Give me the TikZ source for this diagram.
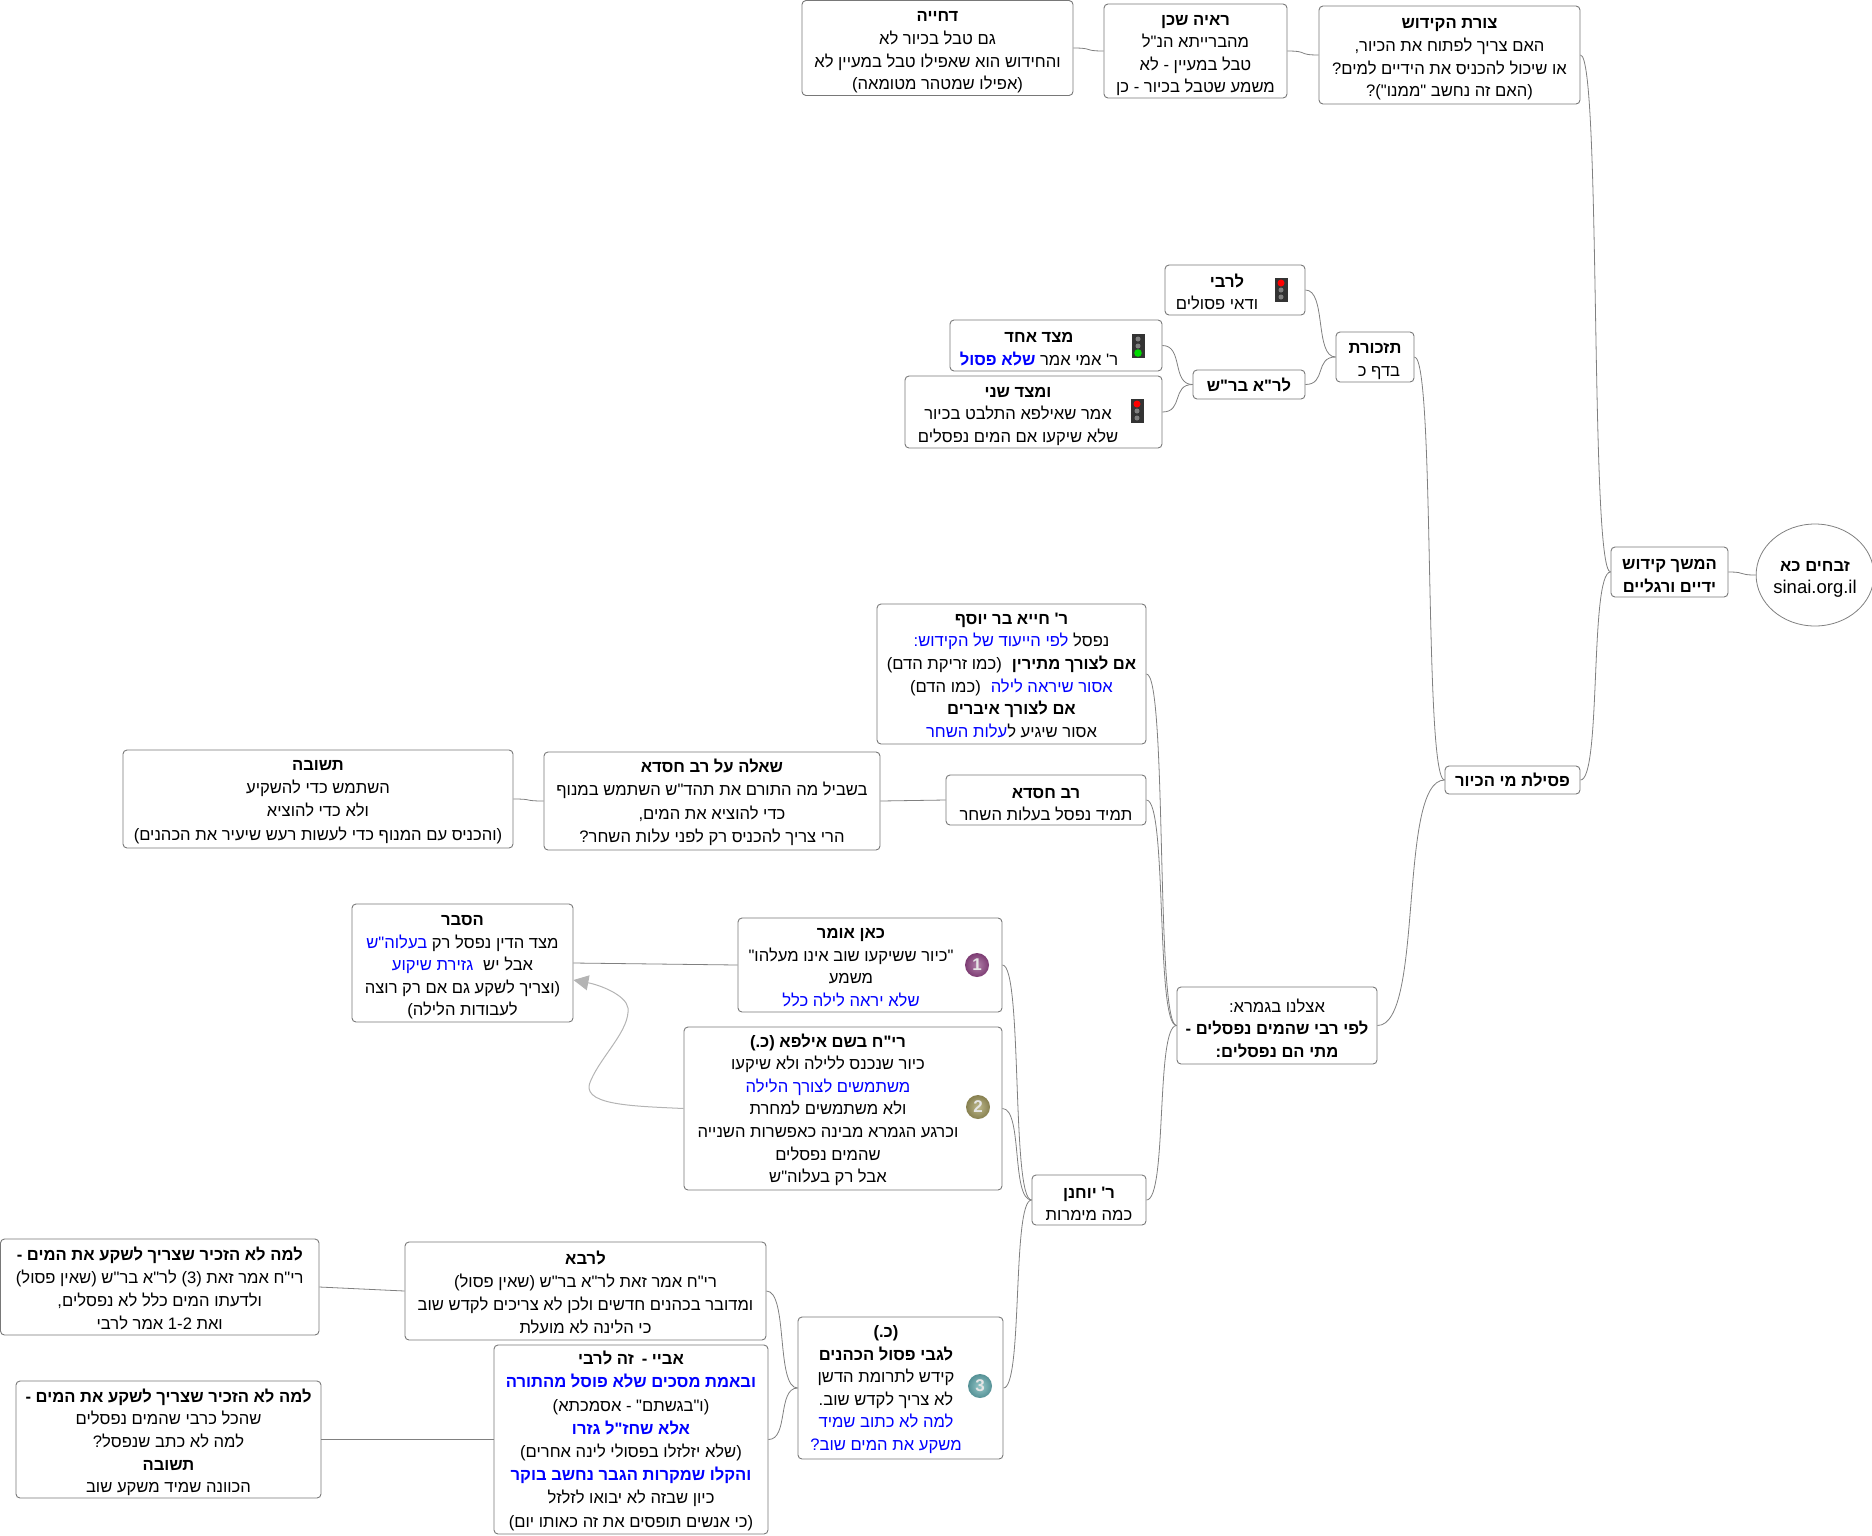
\documentclass[tikz,border=0pt]{standalone}
\usepackage{fontspec}
\usetikzlibrary{calc,shapes.geometric,arrows.meta}
\TeXXeTstate=1
\newfontfamily\hb[Script=Hebrew]{Liberation Sans}
\definecolor{edge}{RGB}{128,128,128}
\definecolor{frame}{RGB}{120,120,120}
\definecolor{arrowgray}{RGB}{180,180,180}
\newcommand{\rl}[1]{\beginR #1\endR}
% inside a right-to-left run the specials come out in reverse order
\newcommand{\blu}[1]{\special{color pop}#1\special{color push rgb 0 0 1}}
\newcommand{\bld}[1]{\textbf{#1}}
\newcommand{\topstrut}{\rule{0pt}{19pt}}
\tikzset{
  box/.style={draw=frame,line width=0.9pt,rounded corners=4pt,fill=white,inner sep=0pt,align=center,text=black,font=\hb\fontsize{16.6}{22.6}\selectfont},
  wide/.style={font=\hb\fontsize{16.6}{23.2}\selectfont},
  txt/.style={inner sep=0pt,align=center,text=black,font=\hb\fontsize{16.6}{22.6}\selectfont},
  conn/.style={draw=edge,line width=0.8pt},
  num/.style={circle,inner sep=0pt,minimum size=24pt,text=white!90!black,font=\hb\bfseries\fontsize{17}{20}\selectfont}
}
\newcommand{\bx}[6]{\node[box,minimum width={(#4-#2)*1pt},minimum height={(#5-#3)*1pt}] (#1) at ({(#2+#4)/2},{(#3+#5)/2}) {\topstrut #6};}
\newcommand{\bxl}[6]{\node[box,wide,minimum width={(#4-#2)*1pt},minimum height={(#5-#3)*1pt}] (#1) at ({(#2+#4)/2},{(#3+#5)/2}) {\rule{0pt}{16pt}#6};}
\newcommand{\bxs}[6]{\node[box,minimum width={(#4-#2)*1pt},minimum height={(#5-#3)*1pt}] (#1) at ({(#2+#4)/2},{(#3+#5)/2}) {\rule{0pt}{14pt}#6};}
\newcommand{\conn}[2]{\draw[conn] let \p1=(#1.east),\p2=(#2.west),\n1={(\x2-\x1)*0.7} in (\p1) .. controls ({\x1+\n1},\y1) and ({\x2-\n1},\y2) .. (\p2);}
\newcommand{\straight}[2]{\draw[conn] (#1.east) -- (#2.west);}
\newcommand{\lightred}[2]{%
  \fill[black!80] ({#1-6.5},{#2-12}) rectangle ({#1+6.5},{#2+12});
  \fill[red] (#1,{#2-7}) circle (3.5);
  \fill[black!50] (#1,#2) circle (2.5);
  \fill[black!50] (#1,{#2+7}) circle (2.5);}
\newcommand{\lightgreen}[2]{%
  \fill[black!80] ({#1-6.5},{#2-12}) rectangle ({#1+6.5},{#2+12});
  \fill[black!50] (#1,{#2-7}) circle (2.5);
  \fill[black!50] (#1,#2) circle (2.5);
  \fill[green!85!black] (#1,{#2+7}) circle (3.8);}
\begin{document}
\begin{tikzpicture}[x=1pt,y=-1pt]
\useasboundingbox (0,0) rectangle (1872,1535);
% nodes
\bx{dhiya}{802}{0.5}{1073}{95.5}{\rl{\bld{דחייה}}\\\rl{גם טבל בכיור לא}\\\rl{והחידוש הוא שאפילו טבל במעיין לא}\\\rl{(אפילו שמטהר מטומאה)}}
\bx{raya}{1104}{4}{1287}{98}{\rl{\bld{ראיה שכן}}\\\rl{מהברייתא הנ"ל}\\\rl{טבל במעיין - לא}\\\rl{משמע שטבל בכיור - כן}}
\bx{tzura}{1319}{6}{1580}{104}{\rl{\bld{צורת הקידוש}}\\\rl{האם צריך לפתוח את הכיור,}\\\rl{או שיכול להכניס את הידיים למים?}\\\rl{(האם זה נחשב "ממנו")?}}
\bx{larabi}{1165}{265}{1305}{315}{}
\node[txt] (larabit) at (1217,289) {\topstrut\rl{\bld{לרבי}\hspace{20pt}}\\\rl{ודאי פסולים}};
\bx{tizk}{1336}{332}{1414}{382}{\rl{\bld{תזכורת}}\\\rl{בדף כ\hspace{8pt}}}
\bx{tzada}{950}{320}{1162}{371}{}
\node[txt] (tzadat) at (1039,345) {\topstrut\rl{\bld{מצד אחד}}\\\rl{ר' אמי אמר \blu{\bld{שלא פסול}}}};
\bxs{lerash}{1193}{370}{1305}{399}{\rl{\bld{לר"א בר"ש}}}
\bx{tzadb}{905}{376}{1162}{448}{}
\node[txt] (tzadbt) at (1018,412) {\topstrut\rl{\bld{ומצד שני}}\\\rl{אמר שאילפא התלבט בכיור}\\\rl{שלא שיקעו אם המים נפסלים}};
\node[draw=edge,line width=0.8pt,ellipse,fill=white,minimum width=114pt,minimum height=102pt,inner sep=0pt,align=center,font=\hb\fontsize{16.6}{22.6}\selectfont] (root) at (1815,575) {\topstrut\rl{\bld{זבחים כא}}\\{\fontsize{18.5}{22.6}\selectfont sinai.org.il}};
\bx{hemshech}{1611}{547}{1728}{597}{\rl{\bld{המשך קידוש}}\\\rl{\bld{ידיים ורגליים}}}
\bxs{psila}{1445}{766}{1580}{794}{\rl{\bld{פסילת מי הכיור}}}
\bxs{hiya}{877}{604}{1146}{744}{\rl{\bld{ר' חייא בר יוסף}}\\\rl{נפסל \blu{לפי הייעוד של הקידוש:}}\\\rl{\bld{אם לצורך מתירין}\hspace{10pt}(כמו זריקת הדם)}\\\rl{\blu{אסור שיראה לילה}\hspace{10pt}(כמו הדם)}\\\rl{\bld{אם לצורך איברים}}\\\rl{אסור שיגיע ל\blu{עלות השחר}}}
\bx{hisda}{946}{775}{1146}{825}{\rl{\bld{רב חסדא}}\\\rl{תמיד נפסל בעלות השחר}}
\bxl{sheela}{544}{752}{880}{850}{\rl{\bld{שאלה על רב חסדא}}\\\rl{בשביל מה התורם את תהד"ש השתמש במנוף}\\\rl{כדי להוציא את המים,}\\\rl{הרי צריך להכניס רק לפני עלות השחר?}}
\bxl{tshuva}{123}{750}{513}{848}{\rl{\bld{תשובה}}\\\rl{השתמש כדי להשקיע}\\\rl{ולא כדי להוציא}\\\rl{(והכניס עם המנוף כדי לעשות רעש שיעיר את הכהנים)}}
\bx{eiln}{1177}{987}{1377}{1064}{\rl{אצלנו בגמרא:}\\\rl{\bld{לפי רבי שהמים נפסלים -}}\\\rl{\bld{מתי הם נפסלים:}}}
\bx{kan}{738}{918}{1002}{1012}{}
\node[txt] (kant) at (851,963) {\topstrut\rl{\bld{כאן אומר}}\\\rl{"כיור ששיקעו שוב אינו מעלהו"}\\\rl{משמע}\\\rl{\blu{שלא יראה לילה כלל}}};
\bx{hesber}{352}{904}{573}{1022}{\rl{\bld{הסבר}}\\\rl{מצד הדין נפסל רק \blu{בעלוה"ש}}\\\rl{אבל יש\hspace{10pt}\blu{גזירת שיקוע}}\\\rl{(וצריך לשקע גם אם רק רוצה}\\\rl{לעבודות הלילה)}}
\bx{ryh}{684}{1027}{1002}{1190}{}
\node[txt] (ryht) at (828,1107) {\topstrut\rl{\bld{רי"ח בשם אילפא (כ.)}}\\\rl{כיור שנכנס ללילה ולא שיקעו}\\\rl{\blu{משתמשים לצורך הלילה}}\\\rl{ולא משתמשים למחרת}\\\rl{וכרגע הגמרא מבינה כאפשרות השנייה}\\\rl{שהמים נפסלים}\\\rl{אבל רק בעלוה"ש}};
\bx{yohanan}{1032}{1175}{1146}{1225}{\rl{\bld{ר' יוחנן}}\\\rl{כמה מימרות}}
\bxl{lerava}{405}{1242}{766}{1340}{\rl{\bld{לרבא}}\\\rl{רי"ח אמר זאת לר"א בר"ש (שאין פסול)}\\\rl{ומדובר בכהנים חדשים ולכן לא צריכים לקדש שוב}\\\rl{כי הלינה לא מועלת}}
\bxl{lamaa}{0.5}{1239}{319}{1335}{\rl{\bld{למה לא הזכיר שצריך לשקע את המים -}}\\\rl{רי"ח אמר זאת (3) לר"א בר"ש (שאין פסול)}\\\rl{ולדעתו המים כלל לא נפסלים,}\\\rl{ואת \beginL 1-2\endL{} אמר לרבי}}
\bx{khaf}{798}{1317}{1003}{1459}{}
\node[txt] (khaft) at (886,1386) {\topstrut\rl{\bld{(כ.)}}\\\rl{\bld{לגבי פסול הכהנים}}\\\rl{קידש לתרומת הדשן}\\\rl{לא צריך לקדש שוב.}\\\rl{\blu{למה לא כתוב שמיד}}\\\rl{\blu{משקע את המים שוב?}}};
\bxl{abaye}{494}{1345}{768}{1534}{\rl{\bld{אביי -\hspace{8pt}זה לרבי}}\\\rl{\blu{\bld{ובאמת מסכים שלא פוסל מהתורה}}}\\\rl{(ו"בגשתם" - אסמכתא)}\\\rl{\blu{\bld{אלא שחז"ל גזרו}}}\\\rl{(שלא יזלזלו בפסולי לינה אחרים)}\\\rl{\blu{\bld{והקלו שמקרות הגבר נחשב בוקר}}}\\\rl{כיון שבזה לא יבואו לזלזל}\\\rl{(כי אנשים תופסים את זה כאותו יום)}}
\bx{lamab}{16}{1381}{321}{1498}{\rl{\bld{למה לא הזכיר שצריך לשקע את המים -}}\\\rl{שהכל כרבי שהמים נפסלים}\\\rl{למה לא כתב שנפסל?}\\\rl{\bld{תשובה}}\\\rl{הכוונה שמיד משקע שוב}}
% icons
\lightred{1281}{290}
\lightgreen{1138}{346}
\lightred{1137}{411}
\node[num,shading=radial,inner color={rgb,255:red,176;green,128;blue,168},outer color={rgb,255:red,125;green,60;blue,115}] (numa) at (977,965) {1};
\node[num,shading=radial,inner color={rgb,255:red,190;green,185;blue,140},outer color={rgb,255:red,135;green,128;blue,80}] (numb) at (978,1107) {2};
\node[num,shading=radial,inner color={rgb,255:red,150;green,200;blue,200},outer color={rgb,255:red,85;green,145;blue,150}] (numc) at (980,1386) {3};
% connectors
\conn{dhiya}{raya}
\conn{raya}{tzura}
\conn{tzura}{hemshech}
\conn{hemshech}{root}
\conn{psila}{hemshech}
\conn{tizk}{psila}
\conn{larabi}{tizk}
\conn{lerash}{tizk}
\conn{tzada}{lerash}
\conn{tzadb}{lerash}
\conn{eiln}{psila}
\conn{hiya}{eiln}
\conn{hisda}{eiln}
\conn{yohanan}{eiln}
\straight{sheela}{hisda}
\conn{tshuva}{sheela}
\conn{kan}{yohanan}
\conn{ryh}{yohanan}
\conn{khaf}{yohanan}
\straight{hesber}{kan}
\conn{lerava}{khaf}
\conn{abaye}{khaf}
\straight{lamaa}{lerava}
\straight{lamab}{abaye}
\draw[draw=arrowgray,line width=1pt,-{Triangle[length=15pt,width=15pt,fill=arrowgray]}] (ryh.west) .. controls (630,1106) and (578,1105) .. (591,1080) .. controls (602,1055) and (630,1030) .. (628,1008) .. controls (626,995) and (600,985) .. (hesber.east |- 0,980);
\end{tikzpicture}
\end{document}
